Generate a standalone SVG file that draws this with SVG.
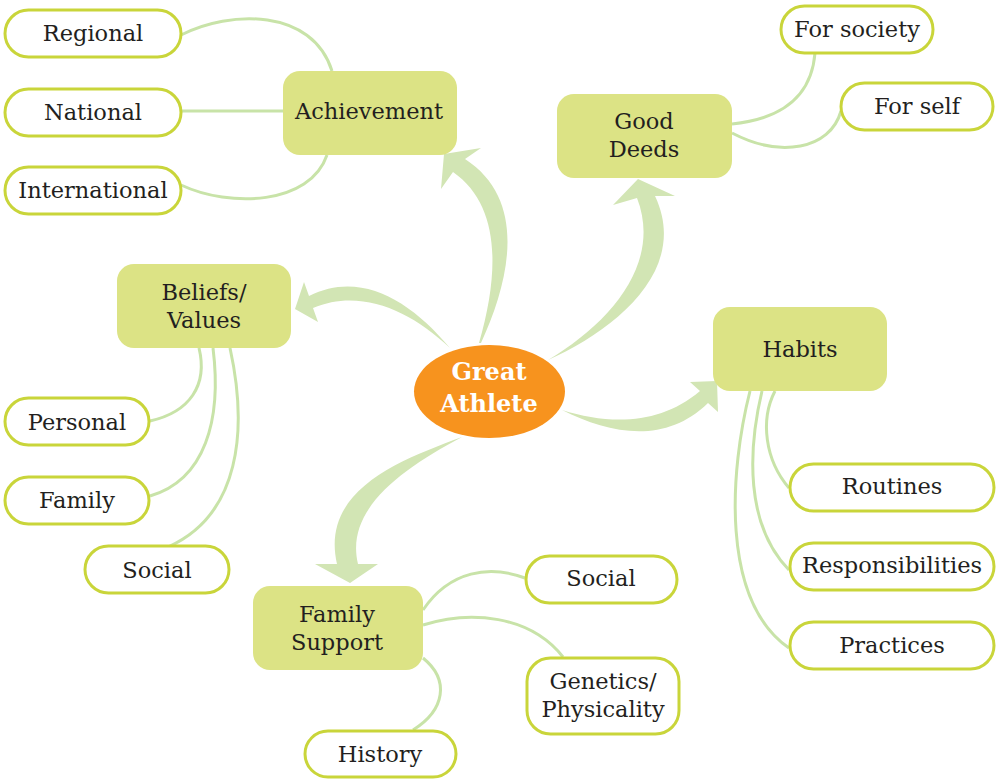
<svg xmlns="http://www.w3.org/2000/svg" width="996" height="779" viewBox="0 0 996 779">
<style>
.hub rect{fill:#dce385}
.pill rect{fill:#fff;stroke:#c9d53a;stroke-width:3}
text{font-family:"DejaVu Serif","Noto Serif",serif;font-size:22.5px;fill:#231f20;text-anchor:middle}
.lines path{fill:none;stroke:#c8e3a8;stroke-width:3}
.arrows path{fill:#d2e5b4}
.center text{fill:#fff;font-weight:bold;font-size:24px}
</style>
<rect width="996" height="779" fill="#fff"/>
<g class="lines" id="connectors">
<path d="M181,35 C230,10 312,8 332,71"/>
<path d="M181,111 L283,111"/>
<path d="M181,185 C230,208 310,205 327,155"/>
<path d="M732,124 C790,118 812,90 815,53"/>
<path d="M732,133 C780,158 830,150 841,111"/>
<path d="M199,348 C208,385 190,412 150,421"/>
<path d="M213,348 C222,420 205,480 150,496"/>
<path d="M230,348 C248,430 240,515 168,547"/>
<path d="M775,391 C760,420 765,460 789,488"/>
<path d="M762,391 C748,450 745,525 789,570"/>
<path d="M750,391 C730,470 720,600 789,648"/>
<path d="M423,610 C450,570 490,565 525,578"/>
<path d="M423,625 C470,610 530,615 563,657"/>
<path d="M423,658 C450,680 445,710 413,730"/>
</g>
<g class="arrows" id="arrows">
<path d="M481,343 C510,280 528,200 465,159 L481,148 L444,154 L441,189 L453,172 C500,205 500,270 479,343 Z"/>
<path d="M548,360 C615,330 690,270 655,196 L675,196 L638,179 L613,205 L637,198 C662,262 612,322 548,360 Z"/>
<path d="M450,348 C410,300 360,270 309,296 L304,282 L295,309 L318,322 L313,308 C360,288 410,310 450,348 Z"/>
<path d="M562,410 C610,434 665,445 708,403 L718,412 L717,381 L690,382 L700,391 C660,425 610,425 562,410 Z"/>
<path d="M462,437 C400,460 320,490 337,564 L315,564 L350,583 L378,564 L358,564 C345,510 400,470 462,437 Z"/>
</g>
<g id="center" class="center">
<ellipse cx="489.5" cy="391.5" rx="75.5" ry="46.5" fill="#f7931e"/>
<text x="489" y="380">Great</text>
<text x="489" y="412">Athlete</text>
</g>
<g id="achievement" class="hub"><rect x="283" y="71" width="174" height="84" rx="17"/><text x="369" y="119">Achievement</text></g>
<g id="good-deeds" class="hub"><rect x="557" y="94" width="175" height="84" rx="17"/><text x="644" y="129">Good</text><text x="644" y="157">Deeds</text></g>
<g id="beliefs" class="hub"><rect x="117" y="264" width="174" height="84" rx="17"/><text x="204" y="300">Beliefs/</text><text x="204" y="328">Values</text></g>
<g id="habits" class="hub"><rect x="713" y="307" width="174" height="84" rx="17"/><text x="800" y="357">Habits</text></g>
<g id="family-support" class="hub"><rect x="253" y="586" width="170" height="84" rx="17"/><text x="337" y="622">Family</text><text x="337" y="650">Support</text></g>
<g id="regional" class="pill"><rect x="5" y="10" width="176" height="47" rx="23.5"/><text x="93" y="41">Regional</text></g>
<g id="national" class="pill"><rect x="5" y="89" width="176" height="47" rx="23.5"/><text x="93" y="120">National</text></g>
<g id="international" class="pill"><rect x="5" y="167" width="176" height="47" rx="23.5"/><text x="93" y="198">International</text></g>
<g id="for-society" class="pill"><rect x="781" y="6" width="152" height="47" rx="23.5"/><text x="857" y="37">For society</text></g>
<g id="for-self" class="pill"><rect x="841" y="83" width="152" height="47" rx="23.5"/><text x="917" y="114">For self</text></g>
<g id="personal" class="pill"><rect x="5" y="398" width="144" height="47" rx="23.5"/><text x="77" y="430">Personal</text></g>
<g id="family" class="pill"><rect x="5" y="477" width="144" height="47" rx="23.5"/><text x="77" y="508">Family</text></g>
<g id="social-left" class="pill"><rect x="85" y="546" width="144" height="47" rx="23.5"/><text x="157" y="578">Social</text></g>
<g id="routines" class="pill"><rect x="790" y="464" width="204" height="47" rx="23.5"/><text x="892" y="494">Routines</text></g>
<g id="responsibilities" class="pill"><rect x="790" y="543" width="204" height="47" rx="23.5"/><text x="892" y="573">Responsibilities</text></g>
<g id="practices" class="pill"><rect x="790" y="622" width="204" height="47" rx="23.5"/><text x="892" y="653">Practices</text></g>
<g id="social-bottom" class="pill"><rect x="526" y="556" width="151" height="47" rx="23.5"/><text x="601" y="586">Social</text></g>
<g id="genetics" class="pill"><rect x="527" y="658" width="152" height="76" rx="23.5"/><text x="603" y="689">Genetics/</text><text x="603" y="717">Physicality</text></g>
<g id="history" class="pill"><rect x="305" y="731" width="151" height="46" rx="23"/><text x="380" y="762">History</text></g>
</svg>
